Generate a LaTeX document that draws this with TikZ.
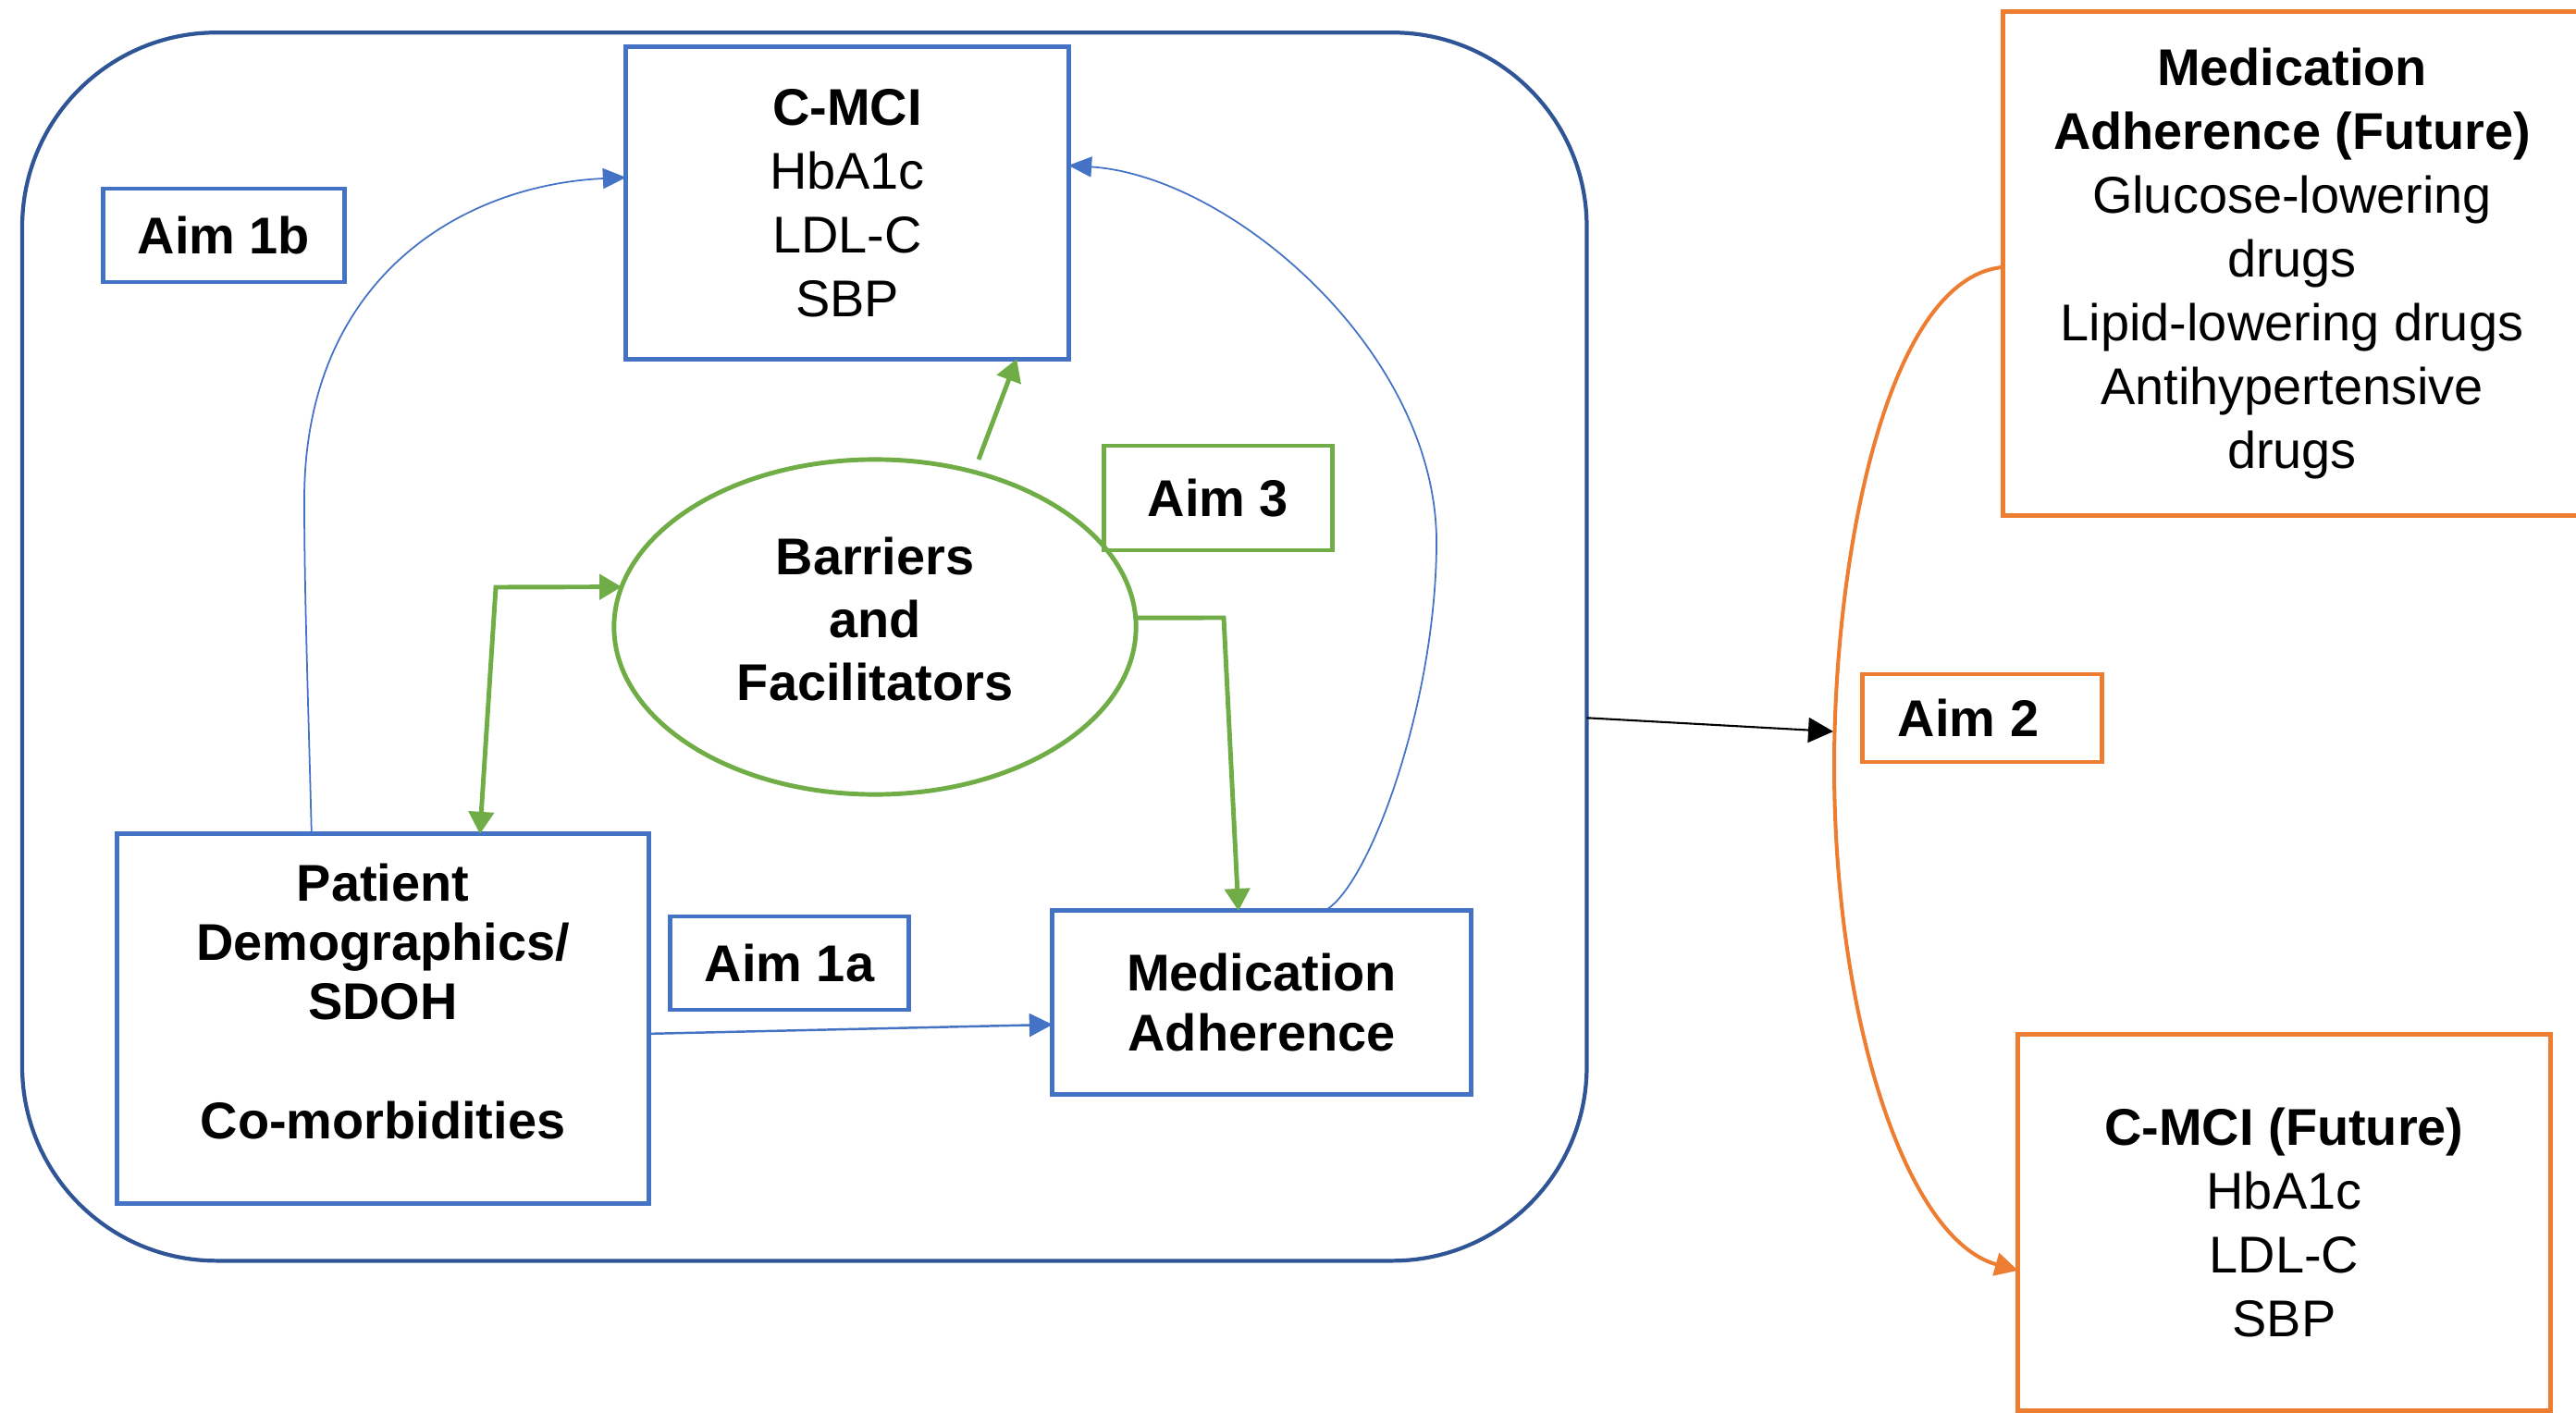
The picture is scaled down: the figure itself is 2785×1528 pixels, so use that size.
\documentclass[tikz,border=0pt]{standalone}
\usepackage{fontspec}
\setmainfont{Liberation Sans}
\usetikzlibrary{arrows.meta,shapes.geometric,calc}
\definecolor{boxblue}{HTML}{4472C4}
\definecolor{darkblue}{HTML}{2F5597}
\definecolor{aimgreen}{HTML}{70AD47}
\definecolor{aimorange}{HTML}{ED7D31}
\tikzset{
  txt/.style={font=\fontsize{15.9}{19.6}\selectfont, align=center, inner sep=0pt, outer sep=0pt},
  bluebox/.style={txt, draw=boxblue, line width=1.4pt, rectangle},
  greenbox/.style={txt, draw=aimgreen, line width=1.4pt, rectangle},
  orangebox/.style={txt, draw=aimorange, line width=1.4pt, rectangle},
  bluearc/.style={draw=boxblue, line width=0.5pt, -{Triangle[length=0.25cm,width=0.22cm]}},
  bluestraight/.style={draw=boxblue, line width=0.7pt, -{Triangle[length=0.25cm,width=0.25cm]}},
  greenarr/.style={draw=aimgreen, line width=1.4pt, -{Triangle[length=0.24cm,width=0.27cm]}},
  greendbl/.style={draw=aimgreen, line width=1.4pt, {Triangle[length=0.24cm,width=0.27cm]}-{Triangle[length=0.24cm,width=0.27cm]}},
  orangearr/.style={draw=aimorange, line width=1.15pt, -{Triangle[length=0.25cm,width=0.25cm]}},
  blackarr/.style={draw=black, line width=0.6pt, -{Triangle[length=0.27cm,width=0.27cm]}},
}
\begin{document}
\begin{tikzpicture}[x=0.01cm,y=-0.01cm]
\useasboundingbox (0,0) rectangle (2785,1528);
\clip (0,0) rectangle (2785,1528);

% outer rounded frame
\node[draw=darkblue, line width=1.2pt, rounded corners=2.1cm, minimum width=16.905cm, minimum height=13.274cm, inner sep=0pt, outer sep=0pt] (outer) at (869.75,699.3) {};

% boxes
\node[bluebox, minimum width=4.78cm, minimum height=3.37cm] (cmci) at (916,219.5)
  {\bfseries C-MCI\\HbA1c\\LDL-C\\SBP};
\node[bluebox, minimum width=2.60cm, minimum height=1.01cm] (aim1b) at (242,254.5) {\bfseries Aim 1b};
\node[greenbox, minimum width=2.46cm, minimum height=1.13cm] (aim3) at (1317,538.5) {\bfseries Aim 3};
\node[txt, ellipse, draw=aimgreen, line width=1.4pt, minimum width=5.64cm, minimum height=3.62cm, font=\fontsize{15.9}{19.3}\selectfont\bfseries] (ell) at (946,678)
  {Barriers\\and\\Facilitators\rule[-0.18cm]{0pt}{0.1pt}};
\node[bluebox, minimum width=5.74cm, minimum height=3.99cm, font=\fontsize{15.9}{18.3}\selectfont\bfseries] (pat) at (414,1101.5)
  {Patient\\Demographics/\\SDOH\\[18.3pt]Co-morbidities\rule[-0.38cm]{0pt}{0.1pt}};
\node[bluebox, minimum width=2.57cm, minimum height=1.01cm] (aim1a) at (853.5,1041.5) {\bfseries Aim 1a};
\node[bluebox, minimum width=4.52cm, minimum height=1.98cm, font=\fontsize{15.9}{18.7}\selectfont\bfseries] (madh) at (1364,1084)
  {Medication\\Adherence};

\node[orangebox, minimum width=6.24cm, minimum height=5.44cm] (fmadh) at (2478,285)
  {\bfseries Medication\\\bfseries Adherence (Future)\\Glucose-lowering\\drugs\\Lipid-lowering drugs\\Antihypertensive\\drugs};
\node[orangebox, minimum width=2.58cm, minimum height=0.95cm] (aim2) at (2143,776.5) {\hbox{\bfseries Aim 2\kern0.3cm}};
\node[orangebox, minimum width=5.75cm, minimum height=4.06cm] (fcmci) at (2469.5,1322)
  {\bfseries C-MCI (Future)\\HbA1c\\LDL-C\\SBP};

% blue arcs (Aim 1b)
\draw[bluearc] ([shift={(210,0)}]pat.north west) .. controls (333,750) and (329,640) .. (329,540)
  .. controls (329,300) and (500,200) .. ([shift={(0,141)}]cmci.north west);
\draw[bluearc] ([shift={(294,0)}]madh.north west) .. controls (1480,960) and (1553,760) .. (1553,586)
  .. controls (1553,380) and (1330,190) .. ([shift={(0,128)}]cmci.north east);
% Aim 1a
\draw[bluestraight] ([shift={(0,216)}]pat.north east) -- ([shift={(0,123)}]madh.north west);

% green (Aim 3)
\draw[greenarr] ([shift={(112,0)}]ell.north) -- ([shift={(-56,0)}]cmci.south east);
\coordinate (c1) at (536,635);
\draw[greendbl] ([shift={(392,0)}]pat.north west) -- (c1) -- (ell.171);
\coordinate (c2) at (1323,668);
\draw[greenarr] (ell.2) -- (c2) -- ([shift={(201,0)}]madh.north west);

% Aim 2
\coordinate (aim2tip) at (1982,791);
\draw[blackarr] ([shift={(0,77)}]outer.east) -- (aim2tip);
\draw[orangearr] ([shift={(0,276)}]fmadh.north west) .. controls (2040,300) and (1983,600) .. (1983,828)
  .. controls (1983,1100) and (2060,1340) .. ([shift={(0,255)}]fcmci.north west);
\end{tikzpicture}
\end{document}
